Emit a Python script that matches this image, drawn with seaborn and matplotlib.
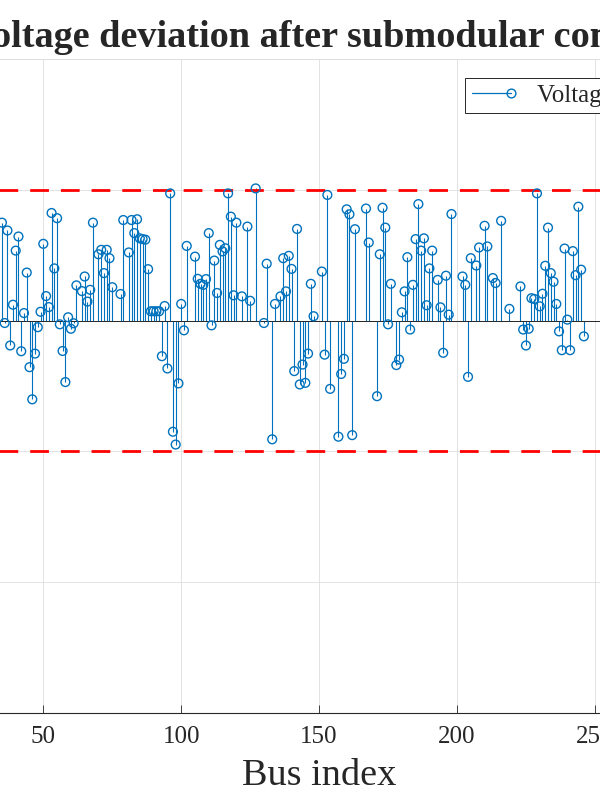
import matplotlib
matplotlib.use("Agg")
import matplotlib.pyplot as plt
import seaborn as sns
from matplotlib.lines import Line2D
from matplotlib.legend_handler import HandlerBase

# Data (bus index, voltage deviation in p.u.)
bus_index = [
    35, 36, 37, 38, 39, 40, 41, 42, 43, 44, 45, 46, 47, 48, 49, 50, 51, 52, 53, 54,
    55, 56, 57, 58, 59, 60, 61, 62, 64, 65, 66, 67, 68, 70, 71, 72, 73, 74, 75, 78,
    79, 81, 82, 83, 84, 85, 86, 87, 88, 89, 90, 91, 92, 93, 94, 95, 96, 97, 98, 99,
    100, 101, 102, 105, 106, 107, 108, 109, 110, 111, 112, 113, 114, 115, 116, 117, 118, 119, 120, 122,
    124, 125, 127, 130, 131, 133, 134, 136, 137, 138, 139, 140, 141, 142, 143, 144, 145, 146, 147, 148,
    151, 152, 153, 154, 157, 158, 159, 160, 161, 162, 163, 167, 168, 171, 172, 173, 174, 175, 176, 178,
    179, 180, 181, 182, 183, 184, 185, 186, 187, 188, 189, 190, 191, 193, 194, 195, 196, 197, 198, 202,
    203, 204, 205, 207, 208, 210, 211, 213, 214, 216, 219, 223, 224, 225, 226, 227, 228, 229, 230, 231,
    232, 233, 234, 235, 236, 237, 238, 239, 240, 241, 242, 243, 244, 245, 246,
]
deviation = [
    0.0375, -0.0009, 0.0345, -0.0095, 0.0061, 0.0268, 0.0322, -0.0117, 0.0029, 0.0184,
    -0.0178, -0.0301, -0.0126, -0.0025, 0.0034, 0.0294, 0.0094, 0.0052, 0.0412, 0.0200,
    0.0392, -0.0014, -0.0116, -0.0235, 0.0013, -0.0031, -0.0010, 0.0135, 0.0113, 0.0169,
    0.0073, 0.0118, 0.0375, 0.0254, 0.0271, 0.0182, 0.0271, 0.0239, 0.0128, 0.0102,
    0.0385, 0.0261, 0.0385, 0.0335, 0.0388, 0.0315, 0.0312, 0.0310, 0.0197, 0.0036,
    0.0036, 0.0036, 0.0036, -0.0136, 0.0056, -0.0183, 0.0487, -0.0425, -0.0474, -0.0240,
    0.0064, -0.0037, 0.0286, 0.0245, 0.0160, 0.0141, 0.0137, 0.0159, 0.0335, -0.0018,
    0.0230, 0.0106, 0.0290, 0.0265, 0.0277, 0.0487, 0.0398, 0.0097, 0.0375, 0.0093,
    0.0360, 0.0076, 0.0506, -0.0009, 0.0218, -0.0454, 0.0064, 0.0093, 0.0239, 0.0112,
    0.0248, 0.0198, -0.0193, 0.0351, -0.0244, -0.0168, -0.0238, -0.0126, 0.0141, 0.0017,
    0.0188, -0.0130, 0.0481, -0.0261, -0.0444, -0.0204, -0.0146, 0.0426, 0.0407, -0.0438,
    0.0350, 0.0429, 0.0299, -0.0289, 0.0254, 0.0432, 0.0356, -0.0014, 0.0141, -0.0170,
    -0.0149, 0.0032, 0.0112, 0.0243, -0.0034, 0.0137, 0.0312, 0.0446, 0.0268, 0.0315,
    0.0059, 0.0200, 0.0268, 0.0156, 0.0051, -0.0123, 0.0172, 0.0023, 0.0408, 0.0169,
    0.0137, -0.0215, 0.0239, 0.0211, 0.0280, 0.0363, 0.0284, 0.0163, 0.0144, 0.0382,
    0.0045, 0.0131, -0.0034, -0.0095, -0.0031, 0.0086, 0.0083, 0.0487, 0.0055, 0.0103,
    0.0210, 0.0356, 0.0182, 0.0149, 0.0064, -0.0041, -0.0113, 0.0276, 0.0004, -0.0113,
    0.0266, 0.0174, 0.0436, 0.0195, -0.0060,
]
limit = 0.05
x_ticks = [0, 50, 100, 150, 200, 250, 300]
y_ticks = [-0.15, -0.1, -0.05, 0, 0.05, 0.1]

blue = "#0072BD"
dark = "#262626"

sns.set_style("whitegrid")
plt.rcParams["font.family"] = ["Liberation Serif", "DejaVu Serif"]


class StemHandler(HandlerBase):
    # MATLAB-like stem legend entry: line with the marker at its right end
    def create_artists(self, legend, orig_handle, xdescent, ydescent,
                       width, height, fontsize, trans):
        y = (height - ydescent) / 2.0
        x1 = width - xdescent - 3.2
        line = Line2D([-xdescent + 0.7, x1], [y, y], color=blue, lw=0.9)
        mk = Line2D([x1], [y], marker="o", ms=6.3, mfc="none", mec=blue,
                    mew=1.0, ls="none")
        line.set_transform(trans)
        mk.set_transform(trans)
        return [line, mk]


fig = plt.figure(figsize=(6, 8), dpi=100)
ax = fig.add_axes([-94.6 / 600, 87.3 / 800, 827.4 / 600, 653.4 / 800])

ax.vlines(bus_index, 0, deviation, color=blue, lw=0.8, zorder=2)
ax.axhline(0, color=dark, lw=0.7, zorder=2.5)
ax.axhline(limit, color="red", lw=2, dashes=(6.75, 4.3), zorder=2.8)
ax.axhline(-limit, color="red", lw=2, dashes=(6.75, 4.3), zorder=2.8)
sns.scatterplot(x=bus_index, y=deviation, ax=ax, marker="o", s=40,
                facecolors="none", edgecolor=blue, linewidth=1.0, zorder=3,
                legend=False)

ax.set_xlim(0, 300)
ax.set_ylim(-0.15, 0.1)
ax.set_xticks(x_ticks)
ax.set_yticks(y_ticks)
ax.grid(True, color="#DEDEDE", lw=0.6)
ax.set_axisbelow(True)

for side in ["left", "right"]:
    ax.spines[side].set_visible(False)
ax.spines["top"].set_color("#DEDEDE")
ax.spines["top"].set_linewidth(0.6)
ax.spines["bottom"].set_color(dark)
ax.spines["bottom"].set_linewidth(0.8)

ax.tick_params(axis="x", bottom=True, direction="in", length=6, width=0.6,
               color=dark, labelsize=18, labelcolor=dark, pad=9.5)

ax.set_title("Voltage deviation after submodular control", fontsize=27.5,
             fontweight="bold", pad=9)
ax.set_xlabel("Bus index", fontsize=27.5, color=dark, labelpad=7.5)

handle = Line2D([], [], color=blue, marker="o")
leg = ax.legend([handle], ["Voltage deviation"], handler_map={Line2D: StemHandler()},
                loc="upper left", bbox_to_anchor=(0.6763, 0.9709), borderaxespad=0,
                fontsize=18, frameon=True, fancybox=False, framealpha=1,
                borderpad=0.25, handlelength=1.77, handletextpad=0.85)
leg.get_frame().set_edgecolor(dark)
leg.get_frame().set_linewidth(0.7)

fig.savefig("out.png", dpi=100)
